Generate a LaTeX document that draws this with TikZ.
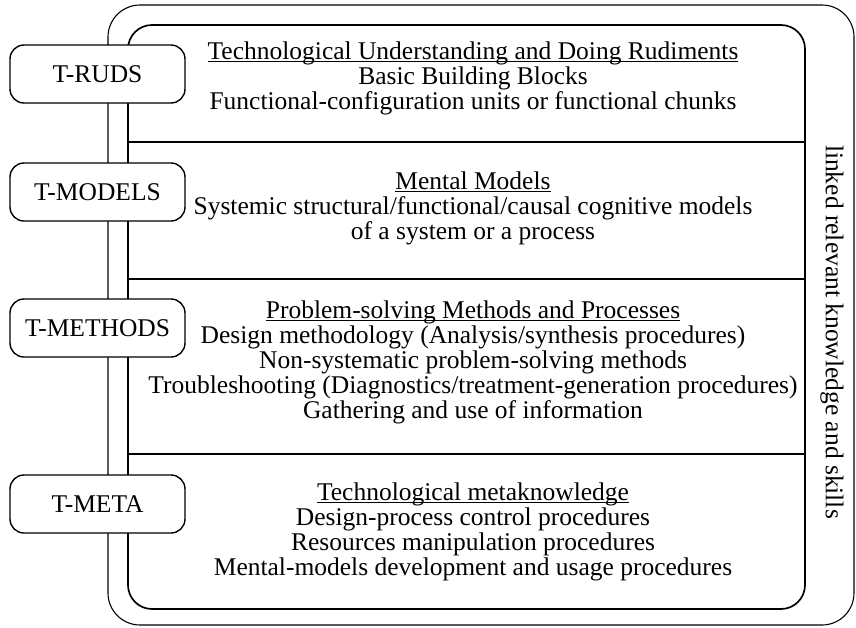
\documentclass[tikz,border=0pt]{standalone}
\usepackage{fontspec}
\setmainfont{Liberation Serif}
\usetikzlibrary{positioning}
\newcommand{\bodyfont}{\fontsize{25.5}{25}\selectfont}
\newcommand{\headline}[1]{\setbox0\hbox{#1}\rlap{\rule[-2.6pt]{\wd0}{1pt}}\box0}

\begin{document}
\begin{tikzpicture}[x=1pt, y=-1pt]
\tikzset{
  frame/.style={draw, rounded corners=24pt, inner sep=0pt, outer sep=0pt},
  tag/.style={draw, fill=white, rounded corners=14pt, line width=1.4pt,
    minimum width=175pt, minimum height=58pt, inner sep=0pt, font=\bodyfont},
  layer/.style={align=center, font=\bodyfont, inner sep=0pt},
  cut/.style={line width=1.5pt}
}
\useasboundingbox (0,0) rectangle (856,627);
% frames
\node[frame, line width=1.1pt, rounded corners=32pt, minimum width=746pt, minimum height=620pt] (outer) at (481,315) {};
\node[frame, line width=1.7pt, minimum width=677pt, minimum height=584pt] (inner) at (466.5,317) {};
% layer borders
\coordinate (c1) at (466,142);
\coordinate (c2) at (466,279);
\coordinate (c3) at (466,454);
\draw[cut] (inner.west |- c1) -- (inner.east |- c1);
\draw[cut] (inner.west |- c2) -- (inner.east |- c2);
\draw[cut] (inner.west |- c3) -- (inner.east |- c3);
% tags
\node[tag] (ruds)    at (97.5,74)  {T-RUDS};
\node[tag] (models)  at (97.5,192) {T-MODELS};
\node[tag] (methods) at (97.5,328) {T-METHODS};
\node[tag] (meta)    at (97.5,504) {T-META};
% layers
\node[layer] (l1) at (473,78) {\headline{Technological Understanding and Doing Rudiments}\\
  Basic Building Blocks\\Functional-configuration units or functional chunks};
\node[layer] (l2) at (473,208) {\headline{Mental Models}\\
  Systemic structural/functional/causal cognitive models\\of a system or a process};
\node[layer] (l3) at (473,362) {\headline{Problem-solving Methods and Processes}\\
  Design methodology (Analysis/synthesis procedures)\\
  Non-systematic problem-solving methods\\
  Troubleshooting (Diagnostics/treatment-generation procedures)\\
  Gathering and use of information};
\node[layer] (l4) at (473,532) {\headline{Technological metaknowledge}\\
  Design-process control procedures\\Resources manipulation procedures\\
  Mental-models development and usage procedures};
\node[font=\bodyfont, rotate=-90] (side) at (832,332) {linked relevant knowledge and skills};
\end{tikzpicture}
\end{document}
